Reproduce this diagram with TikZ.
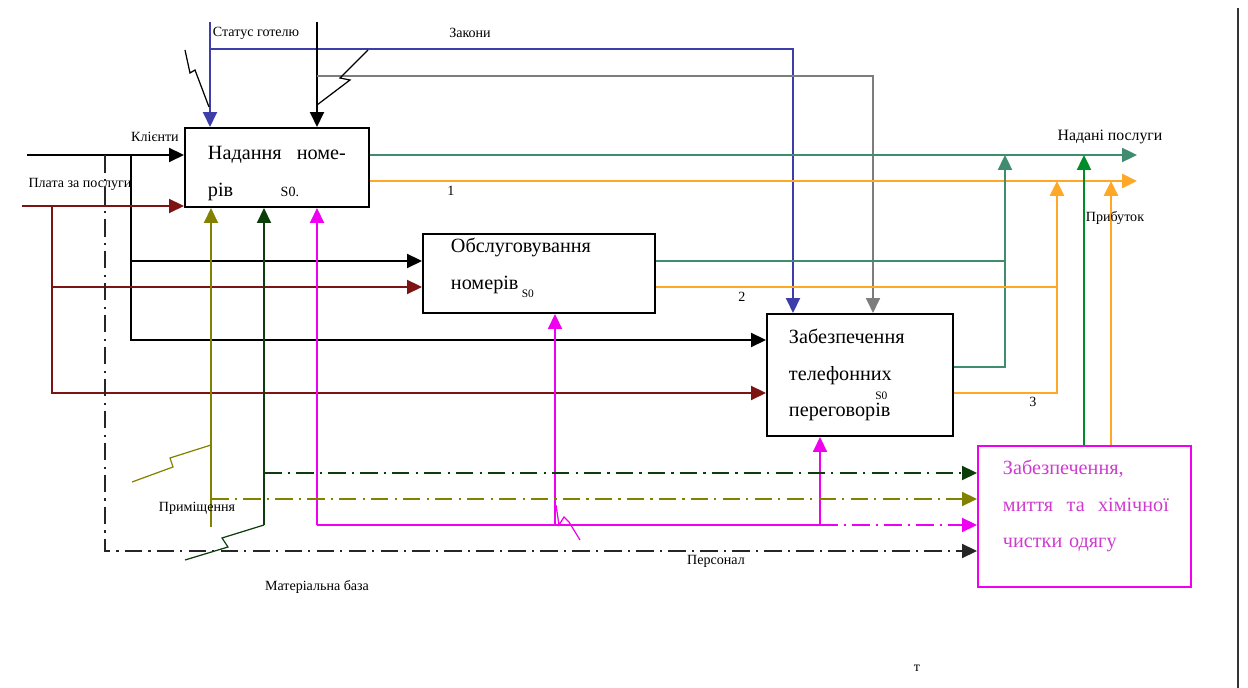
\documentclass[tikz,border=0pt]{standalone}
\usepackage{fontspec}
\setmainfont{Liberation Serif}
\usetikzlibrary{arrows.meta}
\definecolor{stblue}{RGB}{62,62,170}
\definecolor{plred}{RGB}{125,20,20}
\definecolor{outteal}{RGB}{64,140,110}
\definecolor{outorange}{RGB}{255,168,40}
\definecolor{olivel}{RGB}{130,130,0}
\definecolor{dkgreen}{RGB}{12,62,12}
\definecolor{brgreen}{RGB}{0,140,40}
\definecolor{magn}{RGB}{240,0,240}
\definecolor{magtxt}{RGB}{205,60,205}
\definecolor{zkgray}{RGB}{125,125,125}
\begin{document}
\begin{tikzpicture}[x=0.02cm,y=-0.02cm,line width=1.1pt,
  every node/.style={font=\fontsize{8}{9}\selectfont,inner sep=0pt},
  box/.style={draw,line width=1.2pt},
  btxt/.style={anchor=base west,align=left,font=\fontsize{11.5}{20.5}\selectfont},
  arr/.style={-{Triangle[length=8.5pt,width=8pt]}},
  dd/.style={dash pattern=on 10pt off 3.5pt on 1.2pt off 3.5pt},
  zig/.style={line width=0.7pt}]
\useasboundingbox (0,0) rectangle (1248,688);
% activity boxes
\node[box,minimum width=3.68cm,minimum height=1.58cm] (b1) at (277,167.5) {};
\node[box,minimum width=4.64cm,minimum height=1.58cm] (b2) at (539,273.5) {};
\node[box,minimum width=3.72cm,minimum height=2.44cm] (b3) at (860,375) {};
\node[box,magn,minimum width=4.26cm,minimum height=2.82cm] (b4) at (1084.5,516.5) {};
\node[btxt,text width=2.76cm] (tx1) at (207,160) {Надання\hfill номе-\\рів\hspace{0.95cm}{\fontsize{8}{9}\selectfont S0.}};
\node[btxt,text width=4cm] (tx2) at (450,253) {Обслуговування\\номерів\,\raisebox{-5pt}{\fontsize{6.5}{7}\selectfont S0}};
\node[btxt,text width=3.3cm] (tx3) at (788,344) {Забезпечення\\телефонних\\переговор\rlap{\raisebox{9.5pt}{\fontsize{6.5}{7}\selectfont S0}}ів};
\node[btxt,magtxt,text width=3.32cm] (tx4) at (1002,475) {Забезпечення,\\миття\hfill та\hfill хімічної\\чистки одягу};
% inputs
\coordinate (kin) at (27,155);
\coordinate (k2) at (131,261);
\coordinate (k3) at (131,340);
\draw[arr] (kin) -- (kin -| b1.west);
\draw[arr] (k3 |- kin) -- (k3) -- (k3 -| b3.west);
\draw[arr] (k2) -- (k2 -| b2.west);
\coordinate (pin) at (22,206);
\coordinate (p2) at (52,287);
\coordinate (p3) at (52,393);
\begin{scope}[plred]
\draw[arr] (pin) -- (pin -| b1.west);
\draw[arr] (p3 |- pin) -- (p3) -- (p3 -| b3.west);
\draw[arr] (p2) -- (p2 -| b2.west);
\end{scope}
\coordinate (s4) at (105,551);
\draw[arr,dd,black!85] (s4 |- kin) -- (s4) -- (s4 -| b4.west);
% controls
\coordinate (st) at (210,22);
\coordinate (st3) at (793,49);
\draw[arr,stblue] (st) -- (st |- b1.north);
\draw[arr,stblue] (st |- st3) -- (st3) -- (st3 |- b3.north);
\coordinate (zk) at (317,22);
\coordinate (zk3) at (873,76);
\draw[arr] (zk) -- (zk |- b1.north);
\draw[arr,zkgray,line width=0.9pt] (zk |- zk3) -- (zk3) -- (zk3 |- b3.north);
% mechanisms
\coordinate (pm) at (211,527);
\coordinate (pm1) at (211,499);
\coordinate (mb) at (264,525);
\coordinate (mb1) at (264,473);
\coordinate (mg) at (317,525);
\coordinate (mg2) at (555,525);
\coordinate (mg3) at (820,525);
\draw[arr,olivel] (pm) -- (pm |- b1.south);
\draw[arr,dkgreen] (mb) -- (mb |- b1.south);
\draw[arr,magn] (mg) -- (mg |- b1.south);
\draw[magn] (mg) -- (mg3);
\draw[arr,magn] (mg2) -- (mg2 |- b2.south);
\draw[arr,magn] (mg3) -- (mg3 |- b3.south);
\foreach \p/\col in {mb1/dkgreen,pm1/olivel,mg3/magn}
  \draw[arr,dd,\col] (\p) -- (\p -| b4.west);
% outputs
\coordinate (o1) at (1137,155);
\coordinate (o2) at (1137,181);
\draw[arr,outteal] (o1 -| b1.east) -- (o1);
\draw[arr,outorange,line width=1.5pt] (o2 -| b1.east) -- (o2);
\coordinate (tv) at (1005,155);
\coordinate (t2) at (1005,261);
\coordinate (t3) at (1005,367);
\draw[outteal] (t2 -| b2.east) -- (t2);
\draw[arr,outteal] (t3 -| b3.east) -- (t3) -- (tv);
\coordinate (uv) at (1057,181);
\coordinate (u2) at (1057,287);
\coordinate (u3) at (1057,393);
\draw[outorange,line width=1.5pt] (u2 -| b2.east) -- (u2);
\draw[arr,outorange,line width=1.5pt] (u3 -| b3.east) -- (u3) -- (uv);
\coordinate (gv) at (1084,155);
\coordinate (ov) at (1111,181);
\draw[arr,brgreen] (gv |- b4.north) -- (gv);
\draw[arr,outorange,line width=1.5pt] (ov |- b4.north) -- (ov);
% tunnel marks
\draw[zig] (185,50) -- (190,73) -- (195,70) -- (209,107);
\draw[zig] (368,50) -- (340,78) -- (350,80) -- (317,105);
\draw[zig,olivel] (132,482) -- (173,467) -- (170,458) -- (211,445);
\draw[zig,dkgreen] (264,525) -- (222,538) -- (228,547) -- (185,560);
\draw[zig,magn] (556,505) -- (559,525) -- (564,517) -- (569,522) -- (580,540);
\draw[line width=1pt,black!80] (1238,8) -- (1238,688);
% labels
\foreach \n/\x/\y/\t in {lkl/155/137/Клієнти, lpl/80/184/Плата за послуги, lzk/470/33/Закони,
  lpm/197/508/Приміщення, lmb/317/587/Матеріальна база, lps/716/561/Персонал,
  lpr/1115/218/Прибуток, ln1/451/191/1, ln2/742/297/2, ln3/1033/402/3, lt/917/668/т}
  \node (\n) at (\x,\y) {\t};
\node[anchor=west] (lst) at (212,33) {Статус готелю};
\node[font=\fontsize{9}{10}\selectfont] (lnp) at (1110,137) {Надані послуги};
\end{tikzpicture}
\end{document}
